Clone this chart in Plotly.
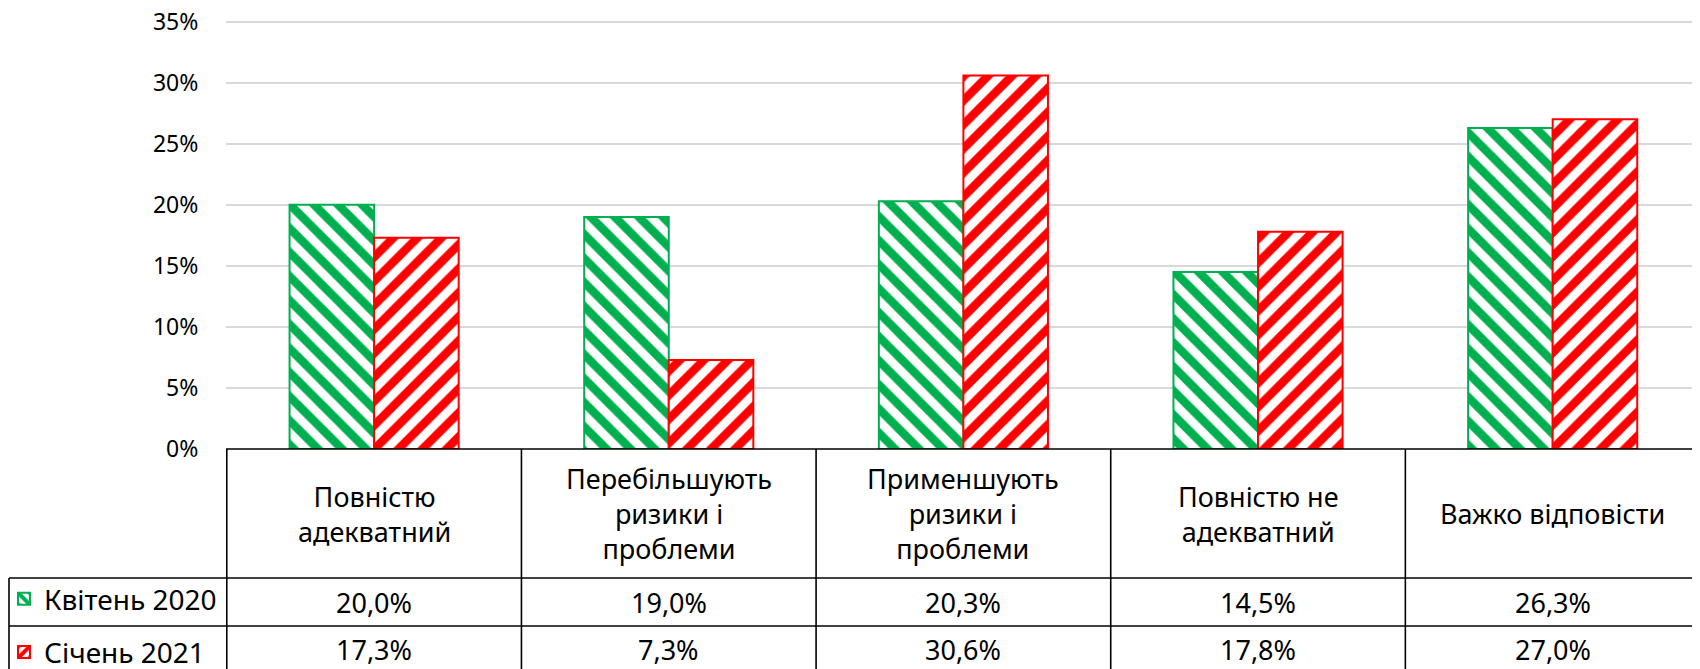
import plotly.graph_objects as go

categories = [
    "Повністю<br>адекватний",
    "Перебільшують<br>ризики і<br>проблеми",
    "Применшують<br>ризики і<br>проблеми",
    "Повністю не<br>адекватний",
    "Важко відповісти",
]
series_names = ["Квітень 2020", "Січень 2021"]
april_2020 = [20.0, 19.0, 20.3, 14.5, 26.3]
january_2021 = [17.3, 7.3, 30.6, 17.8, 27.0]
y_ticks = [0, 5, 10, 15, 20, 25, 30, 35]

GREEN = "#00B050"
RED = "#FF0000"
OFF = 8                      # page body margin
W, H = 1700 - OFF, 669 - OFF
FONT = "Noto Sans"
FS_AX = 23
FS_TB = 27
FS_LG = 28
Y_MAX = 35.1


def px(p):
    return (p - OFF) / W


def py(p):
    return 1 - (p - OFF) / H


fig = go.Figure()
fig.add_trace(go.Bar(
    x=categories, y=april_2020, name=series_names[0],
    marker=dict(color=GREEN, line=dict(color=GREEN, width=2),
                pattern=dict(shape="\\", fgcolor=GREEN, bgcolor="white", fgopacity=1,
                             size=17, solidity=0.5)),
    legendgroup="a",
))
fig.add_trace(go.Bar(
    x=categories, y=january_2021, name=series_names[1],
    marker=dict(color=RED, line=dict(color=RED, width=2),
                pattern=dict(shape="/", fgcolor=RED, bgcolor="white", fgopacity=1,
                             size=17, solidity=0.5)),
    legendgroup="b",
))

y_bottom_px = 449
y35_px = 21.7
# top of the domain so that 35% lands on y35_px
y_top_px = y_bottom_px - (y_bottom_px - y35_px) * Y_MAX / 35
header_bottom = 578
row1_bottom = 626
row2_bottom = 680
x_left_tab = 9
x_plot = 226

shapes = []
line = dict(color="black", width=1.6)
shapes.append(dict(type="line", xref="paper", yref="paper",
                   x0=px(x_plot), x1=1, y0=py(y_bottom_px), y1=py(y_bottom_px), line=line))
for yb in (header_bottom, row1_bottom):
    shapes.append(dict(type="line", xref="paper", yref="paper",
                       x0=px(x_left_tab), x1=1, y0=py(yb), y1=py(yb), line=line))
shapes.append(dict(type="line", xref="paper", yref="paper",
                   x0=px(x_left_tab), x1=px(x_left_tab), y0=py(header_bottom), y1=py(row2_bottom), line=line))
for i in range(len(categories)):
    shapes.append(dict(type="line", xref="x", yref="paper",
                       x0=i - 0.5, x1=i - 0.5, y0=py(y_bottom_px), y1=py(row2_bottom), line=line))

annotations = []
for i, c in enumerate(categories):
    annotations.append(dict(x=i, xref="x", y=py((y_bottom_px + header_bottom) / 2), yref="paper",
                            text=c, showarrow=False, font=dict(family=FONT, size=FS_TB, color="black"),
                            align="center", xanchor="center", yanchor="middle"))
for vals, yb0, yb1 in ((april_2020, header_bottom, row1_bottom), (january_2021, row1_bottom, 672)):
    for i, v in enumerate(vals):
        annotations.append(dict(x=i, xref="x", y=py((yb0 + yb1) / 2), yref="paper",
                                text=f"{v:.1f}%".replace(".", ","), showarrow=False,
                                font=dict(family=FONT, size=FS_TB, color="black"),
                                xanchor="center", yanchor="middle"))

fig.update_layout(
    width=W, height=H,
    margin=dict(l=0, r=0, t=0, b=0, autoexpand=False),
    paper_bgcolor="white", plot_bgcolor="white",
    font=dict(family=FONT, size=FS_AX, color="black"),
    barmode="group", bargap=0.426, bargroupgap=0,
    xaxis=dict(domain=[px(x_plot), 1], showticklabels=False, showgrid=False,
               showline=False, zeroline=False, ticks="", automargin=False),
    yaxis=dict(domain=[py(y_bottom_px), py(y_top_px)], range=[0, Y_MAX],
               tickvals=y_ticks, ticktext=[f"{t}%" for t in y_ticks],
               showgrid=True, gridcolor="#D9D9D9", gridwidth=1.5,
               zeroline=False, showline=False, automargin=False,
               ticklabeloverflow="allow",
               ticks="outside", ticklen=22, tickcolor="rgba(0,0,0,0)",
               tickfont=dict(family=FONT, size=FS_AX, color="black")),
    legend=dict(x=px(4), y=py(header_bottom - 4), xanchor="left", yanchor="top",
                font=dict(family=FONT, size=FS_LG, color="black"), bgcolor="rgba(0,0,0,0)",
                borderwidth=0, itemwidth=30, tracegroupgap=14),
    showlegend=True,
    shapes=shapes,
    annotations=annotations,
)

fig.write_html("out.html")
